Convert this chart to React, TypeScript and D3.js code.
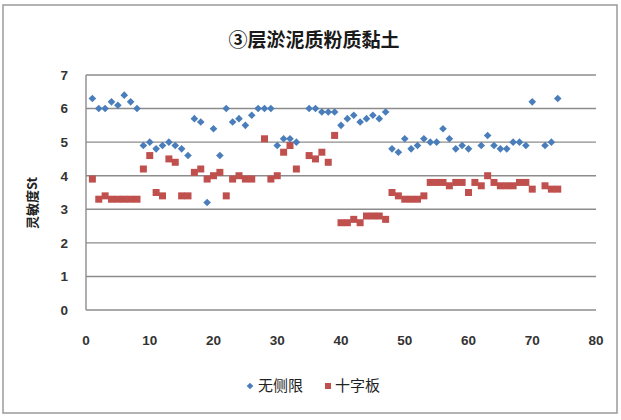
import React from "react";
import * as d3 from "d3";

const TITLE = "③层淤泥质粉质黏土";
const Y_LABEL = "灵敏度St";
const SERIES_NAMES = ["无侧限", "十字板"];
const X_TICKS = [0, 10, 20, 30, 40, 50, 60, 70, 80];
const Y_TICKS = [0, 1, 2, 3, 4, 5, 6, 7];

// sample numbers 1..74 (null = no point)
const unconfined: (number | null)[] = [
  6.3, 6.0, 6.0, 6.2, 6.1, 6.4, 6.2, 6.0, 4.9, 5.0,
  4.8, 4.9, 5.0, 4.9, 4.8, 4.6, 5.7, 5.6, 3.2, 5.4,
  4.6, 6.0, 5.6, 5.7, 5.5, 5.8, 6.0, 6.0, 6.0, 4.9,
  5.1, 5.1, 5.0, null, 6.0, 6.0, 5.9, 5.9, 5.9, 5.5,
  5.7, 5.8, 5.6, 5.7, 5.8, 5.7, 5.9, 4.8, 4.7, 5.1,
  4.8, 4.9, 5.1, 5.0, 5.0, 5.4, 5.1, 4.8, 4.9, 4.8,
  null, 4.9, 5.2, 4.9, 4.8, 4.8, 5.0, 5.0, 4.9, 6.2,
  null, 4.9, 5.0, 6.3,
];

const vane: (number | null)[] = [
  3.9, 3.3, 3.4, 3.3, 3.3, 3.3, 3.3, 3.3, 4.2, 4.6,
  3.5, 3.4, 4.5, 4.4, 3.4, 3.4, 4.1, 4.2, 3.9, 4.0,
  4.1, 3.4, 3.9, 4.0, 3.9, 3.9, null, 5.1, 3.9, 4.0,
  4.7, 4.9, 4.2, null, 4.6, 4.5, 4.7, 4.4, 5.2, 2.6,
  2.6, 2.7, 2.6, 2.8, 2.8, 2.8, 2.7, 3.5, 3.4, 3.3,
  3.3, 3.3, 3.4, 3.8, 3.8, 3.8, 3.7, 3.8, 3.8, 3.5,
  3.8, 3.7, 4.0, 3.8, 3.7, 3.7, 3.7, 3.8, 3.8, 3.6,
  null, 3.7, 3.6, 3.6,
];

const BLUE = "#4A7EBB";
const RED = "#C0504D";
const GRID = "#8C8C8C";
const FONT = "'Liberation Sans', 'Noto Sans CJK SC', sans-serif";
const CJK = "'Noto Sans CJK SC', sans-serif";

export default function App() {
  const W = 621;
  const H = 420;
  const x = d3.scaleLinear().domain([0, 80]).range([86, 596]);
  const y = d3.scaleLinear().domain([0, 7]).range([310, 75]);

  const toPts = (arr: (number | null)[]) =>
    arr
      .map((v, i) => (v == null ? null : { n: i + 1, v }))
      .filter((d): d is { n: number; v: number } => d !== null);

  const bluePts = toPts(unconfined);
  const redPts = toPts(vane);
  const diamond = (cx: number, cy: number, r: number) =>
    `M${cx},${cy - r}L${cx + r},${cy}L${cx},${cy + r}L${cx - r},${cy}Z`;

  return (
    <svg
      width={W}
      height={H}
      style={{ position: "absolute", left: 0, top: 0, background: "#fff" }}
    >
      <rect x={0} y={0} width={W} height={H} fill="#fff" />
      <rect x={3} y={5} width={614} height={408} fill="none" stroke="#9a9a9a" strokeWidth={1.5} />
      <text
        x={314}
        y={47}
        textAnchor="middle"
        fontFamily={CJK}
        fontSize={19}
        fontWeight="bold"
        fill="#1a1a1a"
      >
        {TITLE}
      </text>

      {/* gridlines */}
      {Y_TICKS.map((t) => (
        <line key={"g" + t} x1={x(0)} x2={x(80)} y1={y(t)} y2={y(t)} stroke={GRID} strokeWidth={1.4} />
      ))}
      <line x1={x(0)} x2={x(0)} y1={y(7)} y2={y(0)} stroke={GRID} strokeWidth={1.4} />

      {/* y tick labels */}
      {Y_TICKS.map((t) => (
        <text
          key={"yt" + t}
          x={68}
          y={y(t)}
          dy="0.36em"
          textAnchor="end"
          fontFamily={FONT}
          fontSize={13.5}
          fontWeight="bold"
          fill="#333"
        >
          {t}
        </text>
      ))}
      {/* x tick labels */}
      {X_TICKS.map((t) => (
        <text
          key={"xt" + t}
          x={x(t)}
          y={345}
          textAnchor="middle"
          fontFamily={FONT}
          fontSize={13.5}
          fontWeight="bold"
          fill="#333"
        >
          {t}
        </text>
      ))}
      <text
        transform={`translate(37,${203}) rotate(-90)`}
        textAnchor="middle"
        fontFamily={CJK}
        fontSize={13}
        fontWeight="bold"
        fill="#222"
      >
        {Y_LABEL}
      </text>

      {/* series */}
      {redPts.map((d) => (
        <rect
          key={"r" + d.n}
          x={x(d.n) - 3.5}
          y={y(d.v) - 3.5}
          width={7}
          height={7}
          fill={RED}
        />
      ))}
      {bluePts.map((d) => (
        <path key={"b" + d.n} d={diamond(x(d.n), y(d.v), 3.8)} fill={BLUE} />
      ))}

      {/* legend */}
      <path d={diamond(250, 386, 3.3)} fill={BLUE} />
      <text x={258} y={391} fontFamily={CJK} fontSize={15} fill="#222">
        {SERIES_NAMES[0]}
      </text>
      <rect x={325} y={383} width={6} height={6} fill={RED} />
      <text x={335} y={391} fontFamily={CJK} fontSize={15} fill="#222">
        {SERIES_NAMES[1]}
      </text>
    </svg>
  );
}
